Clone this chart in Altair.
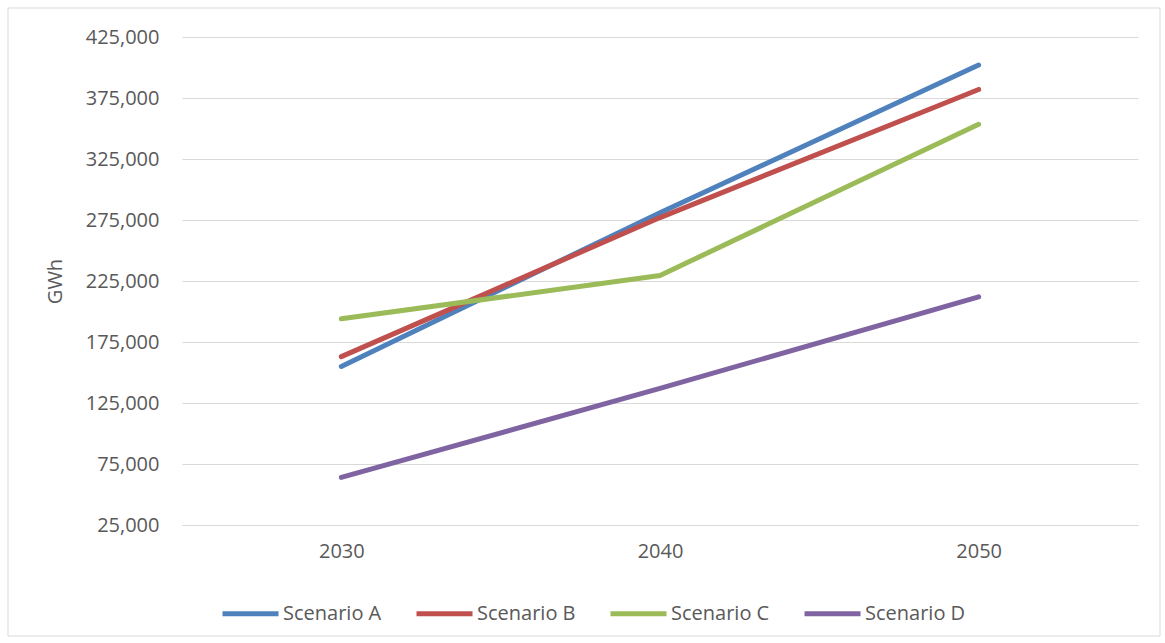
import altair as alt
import pandas as pd

years = ["2030", "2040", "2050"]
scenarios = ["Scenario A", "Scenario B", "Scenario C", "Scenario D"]
scenario_a = [155000, 281000, 402000]
scenario_b = [163000, 277000, 382000]
scenario_c = [194000, 229500, 353500]
scenario_d = [64000, 137000, 212000]
colors = ["#4F81BD", "#C0504D", "#9BBB59", "#8064A2"]
y_ticks = [25000, 75000, 125000, 175000, 225000, 275000, 325000, 375000, 425000]

rows = []
for name, vals in zip(scenarios, [scenario_a, scenario_b, scenario_c, scenario_d]):
    for yr, v in zip(years, vals):
        rows.append({"Year": yr, "Scenario": name, "GWh": v})
df = pd.DataFrame(rows)

FONT = "Open Sans"
TEXT = "#595959"
GRID = "#D9D9D9"

lines = alt.Chart(df).mark_line(strokeWidth=5, strokeCap="round", strokeJoin="round").encode(
    x=alt.X("Year:N", sort=years,
            scale=alt.Scale(type="point", padding=0.5),
            axis=alt.Axis(title=None, labelAngle=0, ticks=False, domain=True,
                          domainColor=GRID, labelPadding=16, grid=False)),
    y=alt.Y("GWh:Q",
            scale=alt.Scale(domain=[25000, 425000], nice=False, zero=False),
            axis=alt.Axis(title="GWh", values=y_ticks, format=",.0f", ticks=False,
                          domain=False, labelPadding=23, titlePadding=20,
                          gridColor=GRID, gridWidth=1)),
    color=alt.Color("Scenario:N", sort=scenarios,
                    scale=alt.Scale(domain=scenarios, range=colors),
                    legend=alt.Legend(title=None, orient="none", direction="horizontal",
                                      legendX=38, legendY=546,
                                      symbolType="stroke", symbolSize=3136,
                                      symbolStrokeWidth=5, labelOffset=2,
                                      columnPadding=24, labelFontSize=20,
                                      labelFont=FONT, labelColor=TEXT)),
)

frame = alt.Chart(pd.DataFrame({"k": [0]})).mark_rect(
    fill=None, stroke=GRID, strokeWidth=1
).encode(
    x=alt.value(-174), x2=alt.value(978), y=alt.value(-29), y2=alt.value(599)
)

chart = alt.layer(frame, lines).properties(
    width=956, height=488,
    autosize=alt.AutoSizeParams(type="none"),
    padding={"left": 182, "top": 37, "right": 27, "bottom": 118},
    background="white",
).configure_view(stroke=None).configure_axis(
    labelFont=FONT, labelFontSize=20, labelColor=TEXT,
    titleFont=FONT, titleFontSize=20, titleColor=TEXT, titleFontWeight="normal",
)

chart.save("out.html", embed_options={"renderer": "svg", "actions": False})
